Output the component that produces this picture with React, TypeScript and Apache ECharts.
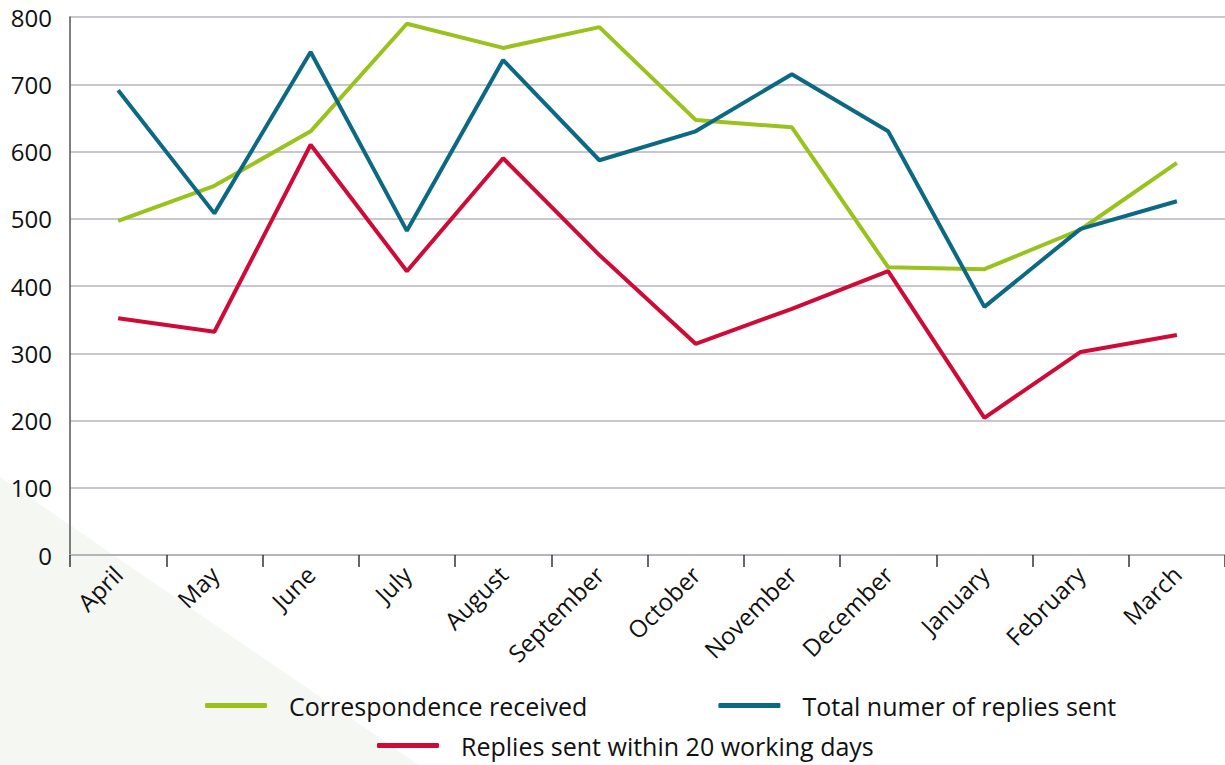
import React, { useEffect, useRef } from "react";
import * as echarts from "echarts";

const months = ["April", "May", "June", "July", "August", "September", "October", "November", "December", "January", "February", "March"];
const correspondenceReceived = [497, 549, 630, 790, 754, 785, 647, 636, 428, 425, 484, 583];
const totalReplies = [691, 508, 748, 482, 736, 587, 630, 715, 630, 369, 485, 526];
const repliesWithin20 = [352, 332, 610, 422, 590, 446, 314, 366, 422, 204, 302, 327];
const seriesNames = ["Correspondence received", "Total numer of replies sent", "Replies sent within 20 working days"];
const colors = ["#99c21c", "#0b6984", "#cf0a36"];

const FONT = "'Open Sans', 'Noto Sans', sans-serif";

export default function App() {
  const ref = useRef<HTMLDivElement>(null);
  useEffect(() => {
    if (!ref.current) return;
    const chart = echarts.init(ref.current, null, { renderer: "svg" });
    const mk = (name: string, data: number[], color: string) => ({
      name,
      type: "line",
      data,
      showSymbol: false,
      symbol: "none",
      lineStyle: { width: 4, color },
      itemStyle: { color },
      z: 3,
    });
    const legendCommon = {
      icon: "roundRect",
      itemWidth: 62,
      itemHeight: 5,
      itemGap: 131,
      padding: 0,
      textStyle: { fontFamily: FONT, fontSize: 25, color: "#111", padding: [0, 0, 0, 17] },
    };
    chart.setOption({
      animation: false,
      backgroundColor: "#ffffff",
      graphic: [
        {
          type: "polygon",
          z: -10,
          silent: true,
          shape: { points: [[0, 477], [419, 765], [0, 765]] },
          style: { fill: "#f5f7f2" },
        },
      ],
      grid: { left: 70, right: 0, top: 17, bottom: 210, containLabel: false },
      legend: [
        { ...legendCommon, data: [seriesNames[0], seriesNames[1]], top: 693, left: 205 },
        { ...legendCommon, data: [seriesNames[2]], top: 733, left: 377 },
      ],
      xAxis: {
        type: "category",
        data: months,
        boundaryGap: true,
        axisLine: { lineStyle: { color: "#b4b4bc", width: 2 } },
        axisTick: { show: true, length: 12, lineStyle: { color: "#333", width: 1.5 } },
        axisLabel: { rotate: 45, fontFamily: FONT, fontSize: 24, color: "#111", margin: 15, interval: 0 },
      },
      yAxis: {
        type: "value",
        min: 0,
        max: 800,
        interval: 100,
        axisLine: { show: true, lineStyle: { color: "#555", width: 1.5 } },
        axisTick: { show: false },
        splitLine: { lineStyle: { color: "#b4b4bc", width: 1.5 } },
        axisLabel: { fontFamily: FONT, fontSize: 24, color: "#111", margin: 18 },
      },
      series: [
        mk(seriesNames[0], correspondenceReceived, colors[0]),
        mk(seriesNames[1], totalReplies, colors[1]),
        mk(seriesNames[2], repliesWithin20, colors[2]),
      ],
    });
    return () => chart.dispose();
  }, []);
  return <div ref={ref} style={{ position: "absolute", left: 0, top: 0, width: 1225, height: 765 }} />;
}
